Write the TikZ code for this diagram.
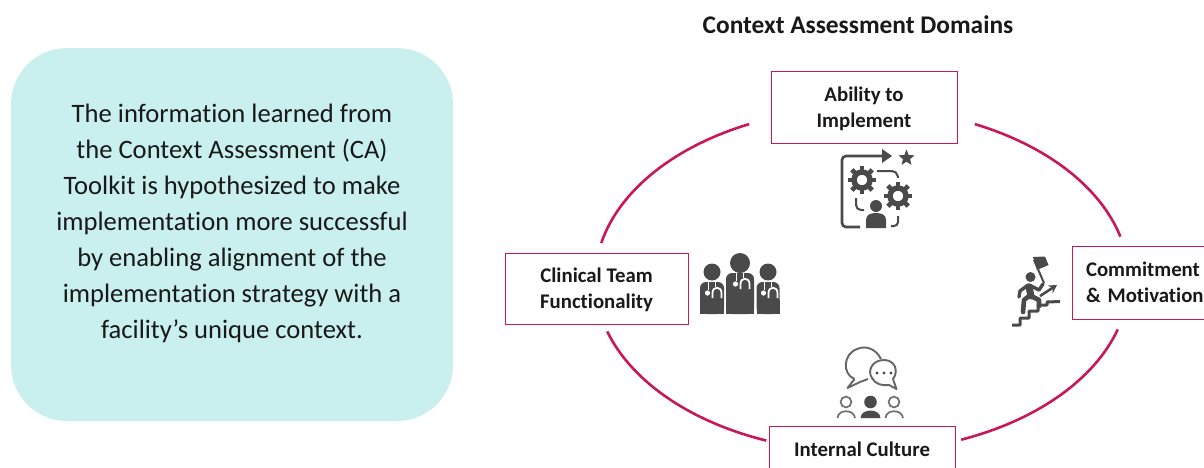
\documentclass[tikz,border=0pt]{standalone}
\usepackage{fontspec}
\setmainfont[Ligatures=NoCommon]{Carlito}
\usetikzlibrary{arrows.meta,shapes.geometric}
\definecolor{teal1}{HTML}{C9EFEF}
\definecolor{crim}{HTML}{C8185A}
\definecolor{icon}{HTML}{4A4A4A}
\newcommand{\gearshape}[2]{%
  \foreach \a in {0,45,...,315}{\draw[icon,line width=4.6pt] (#1,#2) ++(\a:9) -- ++(\a:5.4);}
  \draw[icon,line width=5.4pt] (#1,#2) circle[radius=8];
}
\tikzset{
  bluebox/.style={draw=none,fill=teal1,rounded corners=56pt,minimum width=442pt,minimum height=373pt,inner sep=0pt},
  bodytext/.style={align=center,font=\fontsize{26.6}{36}\selectfont,text=black!90,inner sep=0pt},
  domainbox/.style={draw=crim,line width=1pt,fill=white,align=center,inner sep=0pt,
    font=\fontsize{20.8}{26}\selectfont\bfseries,text=black!90},
  titlefont/.style={font=\fontsize{25.4}{26}\selectfont\bfseries,text=black!90,inner sep=0pt},
  ring/.style={draw=crim,line width=2.6pt},
  iconline/.style={draw=icon,line width=2.6pt},
  iconthin/.style={draw=icon,line width=2pt},
}
\begin{document}
\begin{tikzpicture}[x=1pt,y=-1pt]
\useasboundingbox (0,0) rectangle (1204,467);
\clip (0,0) rectangle (1204,467);
\node[bluebox] (panel) at (232,234.5) {};
\node[bodytext] (paneltext) at (232,223) {The information learned from\\the Context Assessment (CA)\\Toolkit is hypothesized to make\\implementation more successful\\by enabling alignment of the\\implementation strategy with a\\facility’s unique context.};
\node[titlefont] (title) at (858,25) {Context Assessment Domains};
\coordinate (c) at (862,280);
% ring
\draw[ring] (c) ++(245:267 and 172) arc[start angle=245,end angle=192.4,x radius=267,y radius=172];
\draw[ring] (c) ++(-65:267 and 172) arc[start angle=-65,end angle=-14.6,x radius=267,y radius=172];
\draw[ring] (c) ++(16.7:267 and 172) arc[start angle=16.7,end angle=68.2,x radius=267,y radius=172];
\draw[ring] (c) ++(162.6:267 and 172) arc[start angle=162.6,end angle=111,x radius=267,y radius=172];
% boxes
\node[domainbox,minimum width=186pt,minimum height=72pt] (ability) at (864,107) {\rule{0pt}{19pt}Ability to\\Implement};
\node[domainbox,minimum width=183pt,minimum height=71pt] (team) at (596.5,288.5) {\rule{0pt}{17pt}Clinical Team\\Functionality};
\node[domainbox,minimum width=160pt,minimum height=73pt,text width=132pt,align=left] (commit) at (1152,282.5) {Commitment\\\& Motivation};
\node[domainbox,minimum width=186pt,minimum height=46pt] (culture) at (862,449) {Internal Culture};
% ability icon
\draw[iconline,rounded corners=4pt] (860,227) -- (842,227) -- (842,156) -- (884,156);
\fill[icon] (892,156) -- (882,149) -- (882,163) -- cycle;
\node[star,star points=5,star point ratio=2.3,fill=icon,minimum size=17pt,inner sep=0pt] (staricon) at (906.5,158) {};
\gearshape{862}{180}
\gearshape{898}{196}
\draw[iconthin,rounded corners=5pt] (877,171) -- (897,171) -- (898,178);
\draw[iconthin,rounded corners=5pt] (856,198) -- (856,210) -- (864,210);
\draw[iconthin,rounded corners=4pt] (898,216) -- (898,226) -- (891,226);
\fill[icon] (876,206) circle[radius=6];
\fill[icon] (866,228) -- (866,220) .. controls (866,215) and (870,213) .. (876,213) .. controls (882,213) and (886,215) .. (886,220) -- (886,228) -- cycle;
% doctors
\foreach \cx/\hy/\hr/\bw/\bt in {712/272/8.5/12/282,768/272/8.5/11.5/282,740/263/10/14/273}{
  \fill[icon] (\cx,\hy) circle[radius=\hr];
  \fill[icon,rounded corners=6pt] (\cx-\bw,314) -- (\cx-\bw,\bt) -- (\cx+\bw,\bt) -- (\cx+\bw,314) -- cycle;
  \fill[icon] (\cx-\bw,314) rectangle (\cx+\bw,300);
  \draw[white,line width=1pt] (\cx-4,\bt) -- (\cx-4,\bt+8);
  \draw[white,line width=1pt] (\cx+3,\bt) -- (\cx+3,\bt+5);
  \fill[white] (\cx-4.5,\bt+11) circle[radius=2.6];
  \draw[white,line width=1.8pt] (\cx+0.5,\bt+16) -- (\cx+0.5,\bt+11) .. controls (\cx+0.5,\bt+4) and (\cx+9.5,\bt+4) .. (\cx+9.5,\bt+11) -- (\cx+9.5,\bt+16);
}
% climber
\draw[draw=icon,line width=3pt,line join=round] (1012,325) -- (1020,325) -- (1020,318) -- (1029,318) -- (1029,311) -- (1038,311) -- (1038,305) -- (1047,305) -- (1047,302) -- (1060,301.5);
\fill[icon] (1033,257) -- (1045,256.5) -- (1048.5,265) -- (1037,270) -- cycle;
\draw[icon,line width=2pt] (1034,260) -- (1044,283);
\fill[icon] (1030.5,277) circle[radius=5];
\draw[icon,line width=7pt,line cap=round,line join=round] (1029,287) -- (1031,296);
\draw[icon,line width=4.8pt,line cap=round,line join=round] (1031,296) -- (1039,300) -- (1039,306);
\draw[icon,line width=4.6pt,line cap=round,line join=round] (1029,296) -- (1024,300) -- (1023,312);
\draw[icon,line width=3.4pt,line cap=round,line join=round] (1029,285) -- (1039,290) -- (1043,284);
\draw[icon,line width=3.4pt,line cap=round,line join=round] (1028,285) -- (1020,291) -- (1019,297);
\draw[icon,line width=2.6pt,-{Stealth[length=8pt,width=9pt]}] (1040,296) -- (1057,285);
% culture
\draw[draw=icon!85,line width=1.9pt,line join=round]
  (854.5,379) .. controls (842,374) and (843,354) .. (857,349)
  .. controls (866,345) and (876,349) .. (881,359);
\draw[draw=icon!85,line width=1.9pt,line join=round]
  (854.5,379) -- (847.5,388) -- (860,382) -- (868,379);
\draw[draw=icon!85,line width=1.9pt,fill=white,line join=round]
  (889,385) -- (896.5,389) -- (893,379)
  .. controls (899,371) and (895,360) .. (884,360)
  .. controls (872,360) and (867,371) .. (872,378)
  .. controls (875,384) and (882,386) .. (889,385) -- cycle;
\foreach \d in {877,884,891}{\fill[icon] (\d,373) circle[radius=1.6];}
\draw[icon!80,line width=1.7pt] (846,402) circle[radius=5.4];
\draw[icon!80,line width=1.7pt] (894,402) circle[radius=5.4];
\fill[icon] (870.5,402) circle[radius=6.3];
\draw[icon!80,line width=1.7pt] (837.5,418) .. controls (838,409) and (854,409) .. (855,418);
\draw[icon!80,line width=1.7pt] (885.5,418) .. controls (886,409) and (902,409) .. (903,418);
\fill[icon] (860.5,418) .. controls (861,408) and (880,408) .. (880.5,418) -- cycle;
\end{tikzpicture}
\end{document}
